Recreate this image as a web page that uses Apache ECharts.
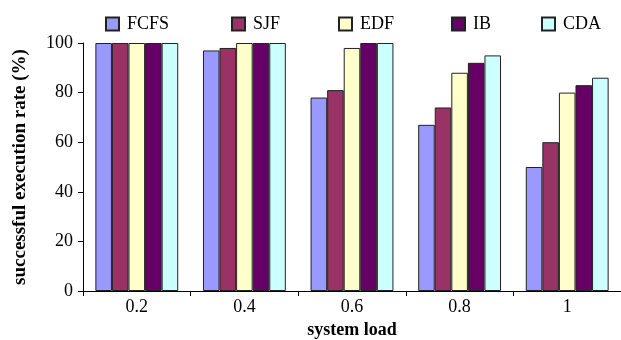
<!DOCTYPE html>
<html><head><meta charset="utf-8">
<script src="https://cdn.jsdelivr.net/npm/echarts@6/dist/echarts.min.js"></script>
<style>html,body{margin:0;padding:0;background:#fff}#c{width:621px;height:340px}</style>
</head><body><div id="c"></div>
<script>
const categories = ['0.2', '0.4', '0.6', '0.8', '1'];
const seriesNames = ['FCFS', 'SJF', 'EDF', 'IB', 'CDA'];
const FCFS = [100, 97, 78, 67, 50];
const SJF = [100, 98, 81, 74, 60];
const EDF = [100, 100, 98, 88, 80];
const IB = [100, 100, 100, 92, 83];
const CDA = [100, 100, 100, 95, 86];
const values = [FCFS, SJF, EDF, IB, CDA];
const colors = ['#9999FF', '#993366', '#FFFFCC', '#660066', '#CCFFFF'];
const legendLeft = [105, 231, 338, 451, 541];
const font = '"Liberation Serif","DejaVu Serif",serif';

const chart = echarts.init(document.getElementById('c'));
chart.setOption({
  animation: false,
  textStyle: {fontFamily: font},
  legend: seriesNames.map((n, i) => ({
    data: [{name: n, icon: 'rect'}], left: legendLeft[i], top: 15, itemWidth: 13, itemHeight: 13,
    padding: 0, selectedMode: false,
    textStyle: {fontFamily: font, fontSize: 18, color: '#000', padding: [0, 0, 0, 3]}
  })),
  grid: {left: 83, right: 0, top: 43, bottom: 49, containLabel: false, outerBoundsMode: 'none'},
  xAxis: {
    type: 'category', data: categories,
    name: 'system load', nameLocation: 'middle', nameGap: 30,
    nameTextStyle: {fontFamily: font, fontWeight: 'bold', fontSize: 18, color: '#000'},
    axisLine: {lineStyle: {color: '#000', width: 1}},
    axisTick: {show: true, length: 5, lineStyle: {color: '#000'}},
    axisLabel: {fontFamily: font, fontSize: 18, color: '#000', margin: 7}
  },
  yAxis: {
    type: 'value', min: 0, max: 100, interval: 20,
    name: 'successful execution rate (%)', nameLocation: 'middle', nameGap: 53,
    nameTextStyle: {fontFamily: font, fontWeight: 'bold', fontSize: 19, color: '#000'},
    axisLine: {show: true, lineStyle: {color: '#000', width: 1}},
    axisTick: {show: true, length: 5, lineStyle: {color: '#000'}},
    axisLabel: {fontFamily: font, fontSize: 18, color: '#000', margin: 10},
    splitLine: {show: false}
  },
  series: seriesNames.map((n, i) => ({
    name: n, type: 'bar', data: values[i],
    barGap: '0%', barCategoryGap: '23%',
    itemStyle: {color: colors[i], borderColor: '#222', borderWidth: 1}
  }))
});
</script></body></html>
